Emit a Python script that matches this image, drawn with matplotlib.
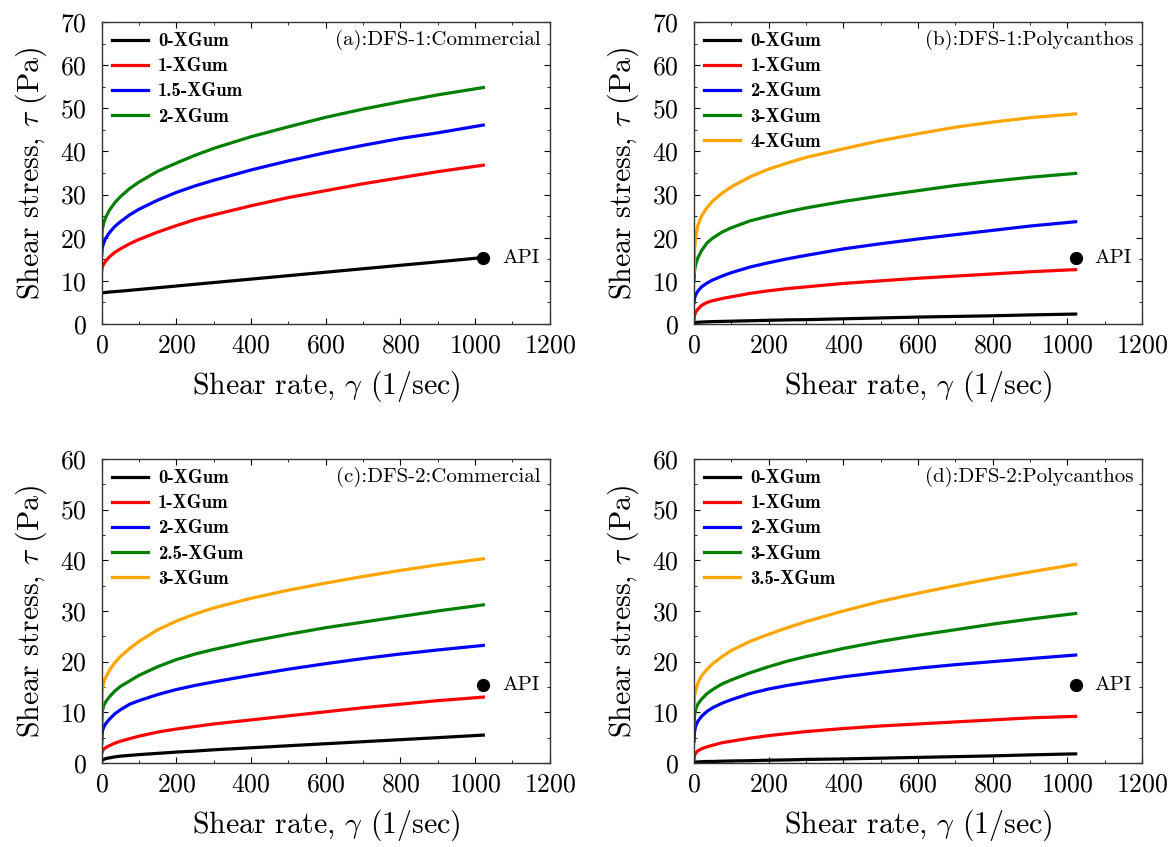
import matplotlib
matplotlib.use("Agg")
import matplotlib.pyplot as plt
from matplotlib.ticker import MultipleLocator

plt.rcParams["font.family"] = "cmr10"
plt.rcParams["mathtext.fontset"] = "cm"
plt.rcParams["axes.unicode_minus"] = False
plt.rcParams["axes.formatter.use_mathtext"] = True

# shear rate sample points (1/sec)
shear_rate = [0, 1, 2, 5, 10, 20, 35, 50, 75, 100, 150, 200, 250, 300,
              400, 500, 600, 700, 800, 900, 1022]

# API reference point
api_rate = 1022
api_stress = 15.3

# (a) DFS-1 Commercial
a_labels = ["0-XGum", "1-XGum", "1.5-XGum", "2-XGum"]
a_0 = [7.2, 7.2, 7.2, 7.25, 7.3, 7.4, 7.5, 7.6, 7.8, 8.0, 8.4, 8.8, 9.2, 9.6, 10.4, 11.2, 12.0, 12.8, 13.6, 14.4, 15.4]
a_1 = [12.3, 13.0, 13.3, 13.8, 14.5, 15.5, 16.6, 17.4, 18.6, 19.6, 21.3, 22.8, 24.2, 25.3, 27.4, 29.3, 30.9, 32.5, 33.9, 35.3, 36.8]
a_15 = [16.0, 17.3, 17.8, 18.7, 19.8, 21.1, 22.6, 23.7, 25.3, 26.6, 28.7, 30.5, 32.0, 33.3, 35.7, 37.8, 39.7, 41.4, 43.0, 44.3, 46.1]
a_2 = [19.5, 21.4, 22.1, 23.3, 24.6, 26.3, 28.1, 29.5, 31.4, 32.9, 35.4, 37.3, 39.1, 40.7, 43.4, 45.7, 47.9, 49.8, 51.5, 53.1, 54.8]

# (b) DFS-1 Polycanthos
b_labels = ["0-XGum", "1-XGum", "2-XGum", "3-XGum", "4-XGum"]
b_0 = [0.3, 0.3, 0.3, 0.35, 0.4, 0.45, 0.5, 0.55, 0.6, 0.65, 0.75, 0.85, 0.95, 1.0, 1.2, 1.4, 1.6, 1.75, 1.9, 2.1, 2.3]
b_1 = [1.0, 1.8, 2.2, 2.8, 3.4, 4.3, 5.0, 5.4, 5.9, 6.3, 7.1, 7.7, 8.2, 8.6, 9.4, 10.0, 10.6, 11.1, 11.6, 12.1, 12.6]
b_2 = [5.0, 5.8, 6.2, 6.9, 7.6, 8.6, 9.5, 10.2, 11.1, 11.9, 13.2, 14.2, 15.1, 15.9, 17.4, 18.6, 19.7, 20.7, 21.7, 22.7, 23.7]
b_3 = [10.0, 12.0, 12.8, 14.0, 15.3, 17.0, 18.8, 19.9, 21.3, 22.3, 23.9, 25.0, 26.0, 26.9, 28.4, 29.7, 30.9, 32.1, 33.1, 34.0, 34.9]
b_4 = [12.0, 16.0, 18.0, 20.5, 22.8, 25.0, 27.0, 28.5, 30.3, 31.8, 34.1, 35.9, 37.3, 38.6, 40.6, 42.5, 44.1, 45.6, 46.8, 47.8, 48.7]

# (c) DFS-2 Commercial
c_labels = ["0-XGum", "1-XGum", "2-XGum", "2.5-XGum", "3-XGum"]
c_0 = [0.3, 0.45, 0.55, 0.7, 0.85, 1.0, 1.2, 1.35, 1.5, 1.65, 1.9, 2.15, 2.35, 2.6, 3.0, 3.4, 3.8, 4.2, 4.6, 5.0, 5.5]
c_1 = [1.8, 2.2, 2.4, 2.7, 3.0, 3.4, 3.9, 4.3, 4.8, 5.3, 6.1, 6.7, 7.2, 7.7, 8.5, 9.3, 10.1, 10.9, 11.6, 12.3, 13.0]
c_2 = [3.8, 5.5, 6.3, 7.0, 7.7, 8.6, 9.7, 10.5, 11.6, 12.3, 13.5, 14.5, 15.3, 16.0, 17.3, 18.5, 19.6, 20.6, 21.5, 22.3, 23.2]
c_25 = [7.0, 9.5, 10.3, 11.3, 12.0, 13.0, 14.2, 15.1, 16.2, 17.3, 19.0, 20.4, 21.5, 22.4, 24.0, 25.4, 26.7, 27.8, 28.9, 30.0, 31.2]
c_3 = [10.0, 13.5, 14.5, 15.8, 16.8, 18.2, 19.8, 21.0, 22.6, 24.0, 26.3, 28.0, 29.4, 30.6, 32.5, 34.1, 35.5, 36.8, 38.0, 39.1, 40.3]

# (d) DFS-2 Polycanthos
d_labels = ["0-XGum", "1-XGum", "2-XGum", "3-XGum", "3.5-XGum"]
d_0 = [0.1, 0.15, 0.15, 0.2, 0.2, 0.25, 0.3, 0.3, 0.35, 0.4, 0.45, 0.55, 0.6, 0.7, 0.8, 0.95, 1.1, 1.25, 1.4, 1.6, 1.8]
d_1 = [0.8, 1.3, 1.6, 2.0, 2.4, 2.8, 3.2, 3.5, 4.0, 4.3, 4.9, 5.4, 5.8, 6.2, 6.8, 7.3, 7.7, 8.1, 8.5, 8.9, 9.2]
d_2 = [4.3, 5.8, 6.5, 7.4, 8.2, 9.2, 10.2, 10.9, 11.8, 12.5, 13.7, 14.6, 15.3, 15.9, 17.0, 17.9, 18.7, 19.4, 20.0, 20.6, 21.3]
d_3 = [7.2, 9.0, 9.8, 10.8, 11.6, 12.6, 13.7, 14.5, 15.6, 16.4, 17.8, 19.0, 20.1, 21.0, 22.6, 24.0, 25.2, 26.3, 27.4, 28.4, 29.5]
d_35 = [11.0, 12.8, 13.6, 14.5, 15.7, 17.2, 18.5, 19.6, 21.0, 22.2, 24.0, 25.4, 26.7, 27.9, 30.0, 31.9, 33.5, 35.0, 36.4, 37.7, 39.2]

colors4 = ["black", "red", "blue", "green"]
colors5 = ["black", "red", "blue", "green", "orange"]

panels = [
    ("(a):DFS-1:Commercial", a_labels, [a_0, a_1, a_15, a_2], colors4, 70),
    ("(b):DFS-1:Polycanthos", b_labels, [b_0, b_1, b_2, b_3, b_4], colors5, 70),
    ("(c):DFS-2:Commercial", c_labels, [c_0, c_1, c_2, c_25, c_3], colors5, 60),
    ("(d):DFS-2:Polycanthos", d_labels, [d_0, d_1, d_2, d_3, d_35], colors5, 60),
]

positions = [
    [0.0868, 0.6175, 0.3823, 0.3566],
    [0.5922, 0.6175, 0.3823, 0.3566],
    [0.0868, 0.0992, 0.3823, 0.3590],
    [0.5922, 0.0992, 0.3823, 0.3590],
]

fig = plt.figure(figsize=(11.72, 8.47), dpi=100)

for (title, labels, series, colors, ymax), pos in zip(panels, positions):
    ax = fig.add_axes(pos)
    for lab, ys, col in zip(labels, series, colors):
        ax.plot(shear_rate, ys, color=col, lw=2.3, label=lab)
    ax.plot(api_rate, api_stress, "o", color="black", ms=8.5)
    ax.text(api_rate + 50, api_stress, "API", fontsize=15, va="center", ha="left")

    ax.set_xlim(0, 1200)
    ax.set_ylim(0, ymax)
    ax.xaxis.set_major_locator(MultipleLocator(200))
    ax.xaxis.set_minor_locator(MultipleLocator(100))
    ax.yaxis.set_major_locator(MultipleLocator(10))
    ax.yaxis.set_minor_locator(MultipleLocator(5))
    ax.tick_params(which="both", direction="in", top=True, right=True, labelsize=18.5)
    ax.tick_params(axis="x", pad=7)
    ax.tick_params(axis="y", pad=11)
    ax.tick_params(which="major", length=4)
    ax.tick_params(which="minor", length=2)
    for sp in ax.spines.values():
        sp.set_color("#333333")
        sp.set_linewidth(1.0)

    ax.set_xlabel(r"Shear rate, $\gamma$ (1/sec)", fontsize=21.5, labelpad=8)
    ax.set_ylabel(r"Shear stress, $\tau$ (Pa)", fontsize=21.5, labelpad=8)
    ax.text(0.98, 0.94, title, transform=ax.transAxes, ha="right", va="center", fontsize=15)
    ax.legend(loc="upper left", frameon=False, handlelength=1.9, handletextpad=0.55,
              labelspacing=0.38, borderaxespad=0.2, borderpad=0.35,
              prop={"family": "cmb10", "size": 13.5})

fig.savefig("out.png", dpi=100)
